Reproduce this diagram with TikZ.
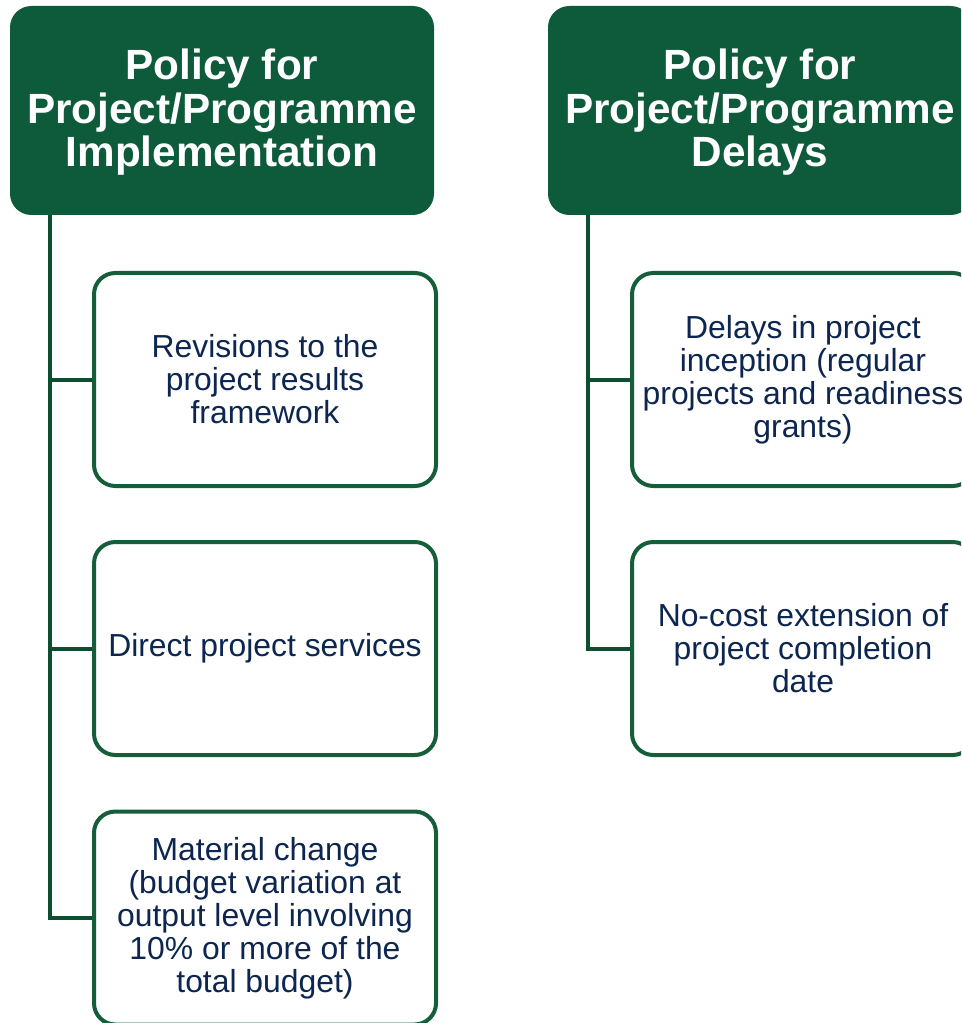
\documentclass[tikz,border=0pt]{standalone}
\usepackage{fontspec}
\setmainfont{Liberation Sans}
\definecolor{hdr}{HTML}{0D5B3A}
\definecolor{brd}{HTML}{145E3A}
\definecolor{conn}{HTML}{0B4F30}
\definecolor{navy}{HTML}{0C2650}
\begin{document}
\begin{tikzpicture}[x=0.75pt,y=-0.75pt,
  hdrbox/.style={draw=none, fill=hdr, rounded corners=16pt, minimum width=318pt, minimum height=156.75pt,
    text=white, font=\fontsize{31.7}{32.6}\selectfont\bfseries, align=center, inner sep=0pt},
  childbox/.style={draw=brd, line width=3pt, fill=white, rounded corners=16pt, minimum width=256.5pt, minimum height=159.75pt,
    text=navy, font=\fontsize{23.9}{24.75}\selectfont, align=center, inner sep=0pt},
  link/.style={draw=conn, line width=3pt}]
\useasboundingbox (0,0) rectangle (961,1023);
\clip (0,0) rectangle (961,1023);
% headers
\fill[hdr, rounded corners=16pt] (10,6) rectangle (434,215);
\fill[hdr, rounded corners=16pt] (548,6) rectangle (972,215);
\node[hdrbox, fill=none] (h1) at (222,112.5) {Policy for\\Project/Programme\\Implementation};
\node[hdrbox, fill=none] (h2) at (760,112.5) {Policy for\\Project/Programme\\Delays};
% anchors for trunks
\coordinate (t1) at (50,215);
\coordinate (t2) at (588,215);
% left children
\node[childbox] (c1) at (265,379.5) {Revisions to the\\project results\\framework};
\node[childbox] (c2) at (265,648.5) {\raisebox{-3pt}{Direct project services}};
\node[childbox] (c3) at (265,918) {Material change\\(budget variation at\\output level involving\\10\% or more of the\\total budget)};
% right children
\node[childbox] (d1) at (803,379.5) {Delays in project\\inception (regular\\projects and readiness\\grants)};
\node[childbox] (d2) at (803,648.5) {No-cost extension of\\project completion\\date};
% connectors
\draw[link] (t1) |- (c3.west);
\draw[link] (t1) |- (c2.west);
\draw[link] (t1) |- (c1.west);
\draw[link] (t2) |- (d2.west);
\draw[link] (t2) |- (d1.west);
\end{tikzpicture}
\end{document}
